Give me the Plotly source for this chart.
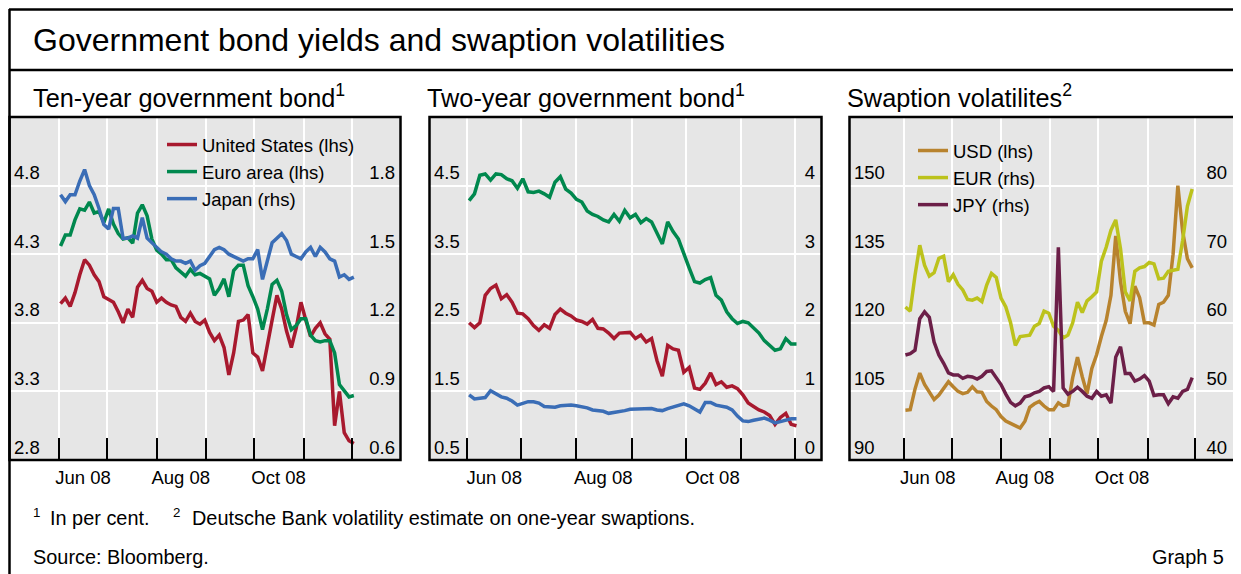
import pandas as pd
import plotly.graph_objects as go

W, H = 1241, 574
OFF = 8  # page body margin in the browser
FONT = "Liberation Sans, Arial, sans-serif"

# ---------------- data ----------------
dates_bonds = pd.date_range("2008-06-02", periods=62, freq="3D")
dates_swap = pd.date_range("2008-06-02", periods=61, freq="3D")

us_10y = [3.94, 3.98, 3.92, 4.02, 4.15, 4.26, 4.22, 4.15, 4.10, 3.99,
          3.97, 3.95, 3.88, 3.80, 3.90, 3.84, 4.06, 4.11, 4.05, 4.03,
          3.95, 3.98, 3.95, 3.93, 3.92, 3.84, 3.81, 3.87, 3.81, 3.79,
          3.82, 3.73, 3.67, 3.71, 3.62, 3.42, 3.58, 3.81, 3.82, 3.86,
          3.58, 3.55, 3.45, 3.65, 3.82, 4.00, 3.90, 3.74, 3.62, 3.76,
          3.95, 3.82, 3.70, 3.76, 3.80, 3.72, 3.68, 3.05, 3.30, 3.00,
          2.94, 2.92]
euro_10y = [4.36, 4.44, 4.44, 4.55, 4.63, 4.62, 4.68, 4.60, 4.61, 4.53,
            4.63, 4.52, 4.45, 4.41, 4.42, 4.38, 4.60, 4.66, 4.58, 4.41,
            4.33, 4.30, 4.26, 4.26, 4.20, 4.17, 4.14, 4.19, 4.15, 4.16,
            4.14, 4.12, 4.00, 4.05, 4.12, 3.99, 4.18, 4.22, 4.22, 4.07,
            3.99, 3.90, 3.75, 3.90, 4.08, 4.11, 4.03, 3.86, 3.75, 3.78,
            3.83, 3.83, 3.71, 3.67, 3.66, 3.67, 3.67, 3.58, 3.35, 3.30,
            3.26, 3.27]
japan_10y = [1.76, 1.73, 1.76, 1.76, 1.82, 1.87, 1.80, 1.76, 1.70, 1.63,
             1.61, 1.70, 1.70, 1.57, 1.57, 1.58, 1.57, 1.66, 1.57, 1.55,
             1.53, 1.51, 1.50, 1.48, 1.47, 1.47, 1.46, 1.47, 1.43, 1.45,
             1.46, 1.49, 1.52, 1.53, 1.52, 1.50, 1.49, 1.48, 1.47, 1.48,
             1.48, 1.52, 1.39, 1.47, 1.55, 1.57, 1.59, 1.56, 1.50, 1.49,
             1.48, 1.51, 1.53, 1.49, 1.53, 1.51, 1.48, 1.47, 1.40, 1.41,
             1.39, 1.40]

us_2y = [2.50, 2.43, 2.50, 2.90, 3.00, 3.05, 2.85, 2.91, 2.80, 2.64,
         2.63, 2.56, 2.46, 2.39, 2.47, 2.42, 2.62, 2.70, 2.64, 2.60,
         2.54, 2.52, 2.48, 2.55, 2.42, 2.41, 2.35, 2.27, 2.35, 2.35,
         2.36, 2.27, 2.32, 2.22, 2.27, 1.95, 1.72, 2.17, 2.12, 2.10,
         1.78, 1.85, 1.55, 1.53, 1.62, 1.77, 1.60, 1.64, 1.56, 1.58,
         1.54, 1.45, 1.33, 1.28, 1.23, 1.20, 1.15, 1.02, 1.12, 1.18,
         1.02, 1.00]
euro_2y = [4.28, 4.38, 4.65, 4.67, 4.58, 4.67, 4.66, 4.60, 4.57, 4.46,
           4.60, 4.41, 4.40, 4.42, 4.38, 4.33, 4.55, 4.63, 4.45, 4.39,
           4.30, 4.26, 4.13, 4.08, 4.05, 4.00, 3.97, 4.08, 3.98, 4.14,
           4.03, 4.08, 3.96, 4.02, 3.97, 3.80, 3.65, 3.97, 3.83, 3.72,
           3.50, 3.30, 3.10, 3.08, 3.13, 3.16, 2.90, 2.83, 2.66, 2.56,
           2.49, 2.52, 2.50, 2.43, 2.35, 2.24, 2.17, 2.10, 2.12, 2.27,
           2.19, 2.19]
japan_2y = [0.95, 0.89, 0.90, 0.91, 1.01, 0.97, 0.92, 0.90, 0.86, 0.80,
            0.83, 0.85, 0.85, 0.83, 0.78, 0.77, 0.77, 0.79, 0.80, 0.80,
            0.79, 0.78, 0.76, 0.73, 0.72, 0.71, 0.68, 0.69, 0.70, 0.72,
            0.74, 0.74, 0.74, 0.75, 0.75, 0.73, 0.72, 0.75, 0.77, 0.80,
            0.82, 0.79, 0.75, 0.70, 0.84, 0.84, 0.80, 0.79, 0.77, 0.73,
            0.64, 0.57, 0.56, 0.58, 0.60, 0.61, 0.58, 0.54, 0.56, 0.58,
            0.60, 0.60]

usd_vol = [100.9, 101.0, 105.5, 109.0, 106.5, 105.0, 103.2, 104.2, 105.8, 107.1,
           106.0, 105.0, 104.5, 104.8, 106.0, 104.9, 104.8, 102.8, 101.8, 101.0,
           99.5, 98.5, 98.0, 97.4, 97.0, 98.5, 101.5, 102.3, 102.8, 101.8,
           101.0, 101.0, 102.5, 101.8, 102.0, 108.0, 112.5, 108.2, 104.5, 110.0,
           113.0, 117.0, 120.5, 126.0, 139.0, 129.0, 122.5, 119.8, 128.0, 125.5,
           120.0, 120.0, 119.5, 124.0, 124.5, 126.0, 135.0, 150.0, 140.0, 134.0,
           132.0]
eur_vol = [62.3, 61.7, 66.9, 71.3, 68.4, 66.8, 67.3, 69.4, 69.7, 66.0,
           67.0, 65.6, 64.8, 63.4, 63.3, 63.6, 63.1, 65.5, 67.2, 66.6,
           63.6, 62.3, 60.0, 56.7, 58.0, 58.1, 58.2, 59.5, 59.9, 61.7,
           61.4, 59.5, 58.9, 57.8, 58.2, 60.0, 63.0, 61.5, 63.2, 63.8,
           64.5, 69.0, 71.0, 73.5, 75.0, 70.8, 64.5, 63.2, 67.5, 68.0,
           68.2, 68.8, 68.6, 66.4, 66.5, 67.5, 67.7, 67.8, 72.0, 77.0,
           79.5]
jpy_vol = [55.3, 55.5, 56.0, 60.6, 61.6, 60.8, 57.2, 55.3, 54.1, 52.7,
           52.4, 52.4, 51.9, 52.2, 52.1, 51.8, 52.2, 52.9, 53.0, 52.1,
           51.0, 49.6, 48.4, 47.9, 48.3, 49.2, 49.4, 49.8, 50.0, 50.5,
           50.7, 50.0, 71.0, 50.5, 49.6, 50.0, 50.6, 50.0, 49.3, 49.0,
           50.0, 49.3, 49.5, 48.3, 55.0, 56.5, 52.6, 52.6, 51.5, 51.8,
           52.3, 51.5, 49.4, 49.5, 49.5, 48.2, 49.2, 49.0, 50.0, 50.3,
           52.0]

month_starts = ["2008-06-01", "2008-07-01", "2008-08-01", "2008-09-01",
                "2008-10-01", "2008-11-01", "2008-12-01"]
label_dates = ["2008-06-16", "2008-08-16", "2008-10-16"]
label_text = ["Jun 08", "Aug 08", "Oct 08"]

ten_lhs_ticks = [2.8, 3.3, 3.8, 4.3, 4.8]
ten_rhs_ticks = [0.6, 0.9, 1.2, 1.5, 1.8]
two_lhs_ticks = [0.5, 1.5, 2.5, 3.5, 4.5]
two_rhs_ticks = [0, 1, 2, 3, 4]
vol_lhs_ticks = [90, 105, 120, 135, 150]
vol_rhs_ticks = [40, 50, 60, 70, 80]

RED = "#A8192E"
GREEN = "#00884E"
BLUE = "#3A6DB6"
USD_C = "#B8832E"
EUR_C = "#BCC21C"
JPY_C = "#6C1F48"

# ---------------- figure ----------------
fig = go.Figure()
LW = 3.5


def add(x, y, name, color, xa, ya, legend=None):
    fig.add_trace(go.Scatter(
        x=x, y=y, name=name, mode="lines",
        line=dict(color=color, width=LW),
        xaxis=xa, yaxis=ya,
        showlegend=legend is not None,
        legend=legend if legend else "legend",
        legendgroup=name,
    ))


add(dates_bonds, us_10y, "United States (lhs)", RED, "x", "y", "legend")
add(dates_bonds, euro_10y, "Euro area (lhs)", GREEN, "x", "y", "legend")
add(dates_bonds, japan_10y, "Japan (rhs)", BLUE, "x", "y2", "legend")

add(dates_bonds, euro_2y, "Euro 2y", GREEN, "x2", "y3")
add(dates_bonds, us_2y, "US 2y", RED, "x2", "y3")
add(dates_bonds, japan_2y, "Japan 2y", BLUE, "x2", "y4")

add(dates_swap, usd_vol, "USD (lhs)", USD_C, "x3", "y5", "legend2")
add(dates_swap, eur_vol, "EUR (rhs)", EUR_C, "x3", "y6", "legend2")
add(dates_swap, jpy_vol, "JPY (rhs)", JPY_C, "x3", "y6", "legend2")


# helpers: convert screenshot pixel positions to paper coordinates
def px(x):
    return (x - OFF) / W


def py(y):
    return 1 - (y - OFF) / H


TOP, BOT = 117, 460
panels = [(9, 401), (429, 822), (849, 1240)]
xranges = [["2008-04-30 20:00", "2008-12-31 10:00"],
           ["2008-05-10 14:00", "2008-12-16 06:00"],
           ["2008-04-27 14:00", "2008-12-29 00:00"]]
rhs_standoff = [3, 4, 10]
tickfont = dict(family=FONT, size=18.5, color="black")

for i, ((l, r), xr) in enumerate(zip(panels, xranges)):
    xa = "xaxis" if i == 0 else f"xaxis{i + 1}"
    fig.layout[xa] = dict(
        domain=[px(l), px(r)], anchor="y" if i == 0 else f"y{2 * i + 1}",
        type="date", range=xr, showgrid=False, zeroline=False, showline=False,
        tickmode="array", tickvals=label_dates, ticktext=label_text, ticks="",
        tickfont=tickfont, fixedrange=True, ticklabelstandoff=4,
        minor=dict(tickmode="array", tickvals=month_starts, ticks="inside",
                   ticklen=22, tickwidth=2, tickcolor="black",
                   showgrid=True, gridcolor="white", gridwidth=2),
    )

y_specs = [
    ([2.8, 5.3], ten_lhs_ticks, [0.6, 2.1], ten_rhs_ticks),
    ([0.5, 5.5], two_lhs_ticks, [0.0, 5.0], two_rhs_ticks),
    ([90, 165], vol_lhs_ticks, [40, 90], vol_rhs_ticks),
]
for i, (lr, lt, rr, rt) in enumerate(y_specs):
    n_l = 2 * i + 1
    n_r = 2 * i + 2
    xname = "x" if i == 0 else f"x{i + 1}"
    lname = "yaxis" if n_l == 1 else f"yaxis{n_l}"
    fig.layout[lname] = dict(
        domain=[py(BOT), py(TOP)], anchor=xname, range=lr,
        tickmode="array", tickvals=lt, ticktext=[f"{v:g}" for v in lt],
        ticks="", ticklabelposition="inside top", ticklabelstandoff=2,
        showgrid=True, gridcolor="white", gridwidth=2, zeroline=False,
        showline=False, tickfont=tickfont, fixedrange=True,
    )
    fig.layout[f"yaxis{n_r}"] = dict(
        overlaying="y" if n_l == 1 else f"y{n_l}", side="right", anchor=xname,
        range=rr, tickmode="array", tickvals=rt, ticktext=[f"{v:g}" for v in rt],
        ticks="", ticklabelposition="inside top",
        ticklabelstandoff=rhs_standoff[i],
        showgrid=False, zeroline=False, showline=False, tickfont=tickfont,
        fixedrange=True,
    )

shapes = []
LC = "black"
# outer frame
shapes.append(dict(type="line", xref="paper", yref="paper", x0=px(9.5), x1=px(9.5),
                   y0=py(9), y1=py(600), line=dict(color=LC, width=2.5)))
shapes.append(dict(type="line", xref="paper", yref="paper", x0=px(9), x1=1,
                   y0=py(9.5), y1=py(9.5), line=dict(color=LC, width=2.5)))
shapes.append(dict(type="line", xref="paper", yref="paper", x0=px(9), x1=1,
                   y0=py(70), y1=py(70), line=dict(color=LC, width=2.5)))
for l, r in panels:
    shapes.append(dict(type="rect", xref="paper", yref="paper",
                       x0=px(l + 0.5), x1=px(r - 0.5), y0=py(BOT), y1=py(TOP),
                       line=dict(color=LC, width=2.5), layer="above"))

ann = []


def text(x, y, s, size, anchor="left"):
    ann.append(dict(x=px(x), y=py(y), xref="paper", yref="paper", text=s,
                    showarrow=False, xanchor=anchor, yanchor="middle",
                    font=dict(family=FONT, size=size, color="black")))


text(31, 40, "Government bond yields and swaption volatilities", 32)
text(31, 96, "Ten-year government bond<sup>1</sup>", 25.3)
text(425, 96, "Two-year government bond<sup>1</sup>", 25.3)
text(845, 96, "Swaption volatilites<sup>2</sup>", 25.3)
text(31, 512, "<sup>1</sup>", 19)
text(48, 518, "In per cent.", 19.9)
text(171, 512, "<sup>2</sup>", 19)
text(190, 518, "Deutsche Bank volatility estimate on one-year swaptions.", 19.9)
text(31, 557, "Source: Bloomberg.", 19.9)
text(1226, 557, "Graph 5", 19.9, anchor="right")

legend_style = dict(xanchor="left", yanchor="top", bgcolor="rgba(0,0,0,0)",
                    borderwidth=0, tracegroupgap=0, itemwidth=30,
                    font=dict(family=FONT, size=18.5, color="black"))

fig.update_layout(
    width=W, height=H, margin=dict(l=0, r=0, t=0, b=0),
    paper_bgcolor="white", plot_bgcolor="#E6E6E6",
    shapes=shapes, annotations=ann,
    legend=dict(x=px(162), y=py(126), **legend_style),
    legend2=dict(x=px(913), y=py(132), **legend_style),
    font=dict(family=FONT),
)

fig.write_html("out.html")
